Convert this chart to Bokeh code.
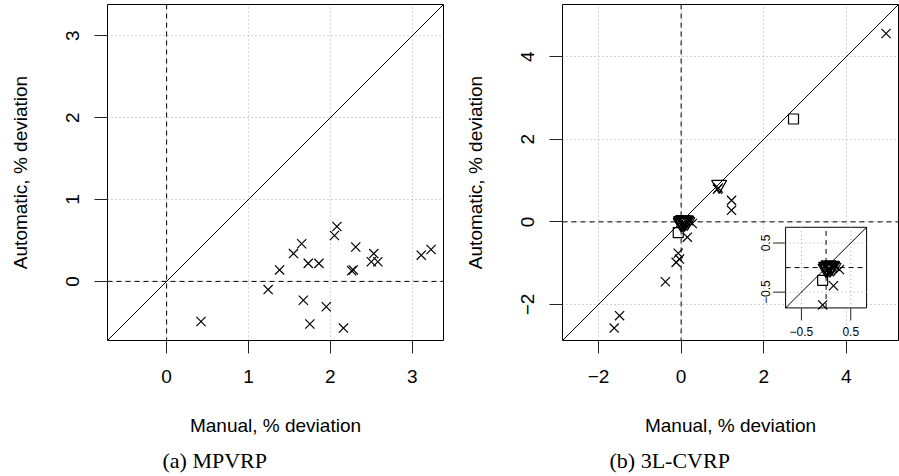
import math
import numpy as np
from bokeh.plotting import figure
from bokeh.layouts import row
from bokeh.models import Range1d, Span, Slope, FixedTicker, Title
from bokeh.embed import file_html
from bokeh.resources import INLINE
from bokeh.core.properties import value

# ---------------- data ----------------
# (a) MPVRP
mpvrp_manual = [0.42, 1.24, 1.38, 1.55, 1.65, 1.73, 1.86, 1.67, 1.75, 1.95, 2.05,
                2.08, 2.16, 2.26, 2.28, 2.31, 2.53, 2.50, 2.58, 3.11, 3.23]
mpvrp_auto = [-0.49, -0.10, 0.14, 0.34, 0.46, 0.22, 0.22, -0.23, -0.52, -0.31, 0.56,
              0.67, -0.57, 0.13, 0.14, 0.42, 0.34, 0.24, 0.24, 0.32, 0.39]
mpvrp_ticks = [0, 1, 2, 3]

# (b) 3L-CVRP, three marker groups
cvrp_x_manual = [4.96, 0.88, 0.90, 1.22, 1.22, 0.27, 0.15, -0.07, -0.04, -0.12,
                 -0.38, -1.49, -1.62, 0.10, 0.05, 0.18]
cvrp_x_auto = [4.56, 0.79, 0.82, 0.52, 0.28, -0.04, -0.37, -0.76, -0.90, -0.98,
               -1.45, -2.27, -2.57, 0.02, -0.02, 0.03]
cvrp_sq_manual = [2.72, -0.07]
cvrp_sq_auto = [2.49, -0.26]
cvrp_tri_manual = [0.92, 0.00, 0.03, 0.06, 0.09, 0.12, 0.02, 0.15, 0.05, 0.08, 0.11, -0.01]
cvrp_tri_auto = [0.90, 0.02, 0.00, 0.03, 0.01, 0.02, -0.03, 0.00, 0.05, -0.02, 0.04, -0.02]
cvrp_ticks = [-2, 0, 2, 4]

inset_lim = [-0.76, 0.76]
inset_ticks = [-0.5, 0.5]

# ---------------- style ----------------
SANS = "Liberation Sans"
SERIF = "Liberation Serif"
FRAME = 336
INSET_FRAC = (0.664, 0.905, 0.097, 0.337)  # left, right, bottom, top of main frame
GRID = "#aaaaaa"


def padded(lo, hi, frac=0.04):
    d = (hi - lo) * frac
    return lo - d, hi + d


def minus(t):
    s = ("%g" % t)
    return s.replace("-", "\u2212")


def make_panel(xs, ys, ticks, caption, cap_offset, border_right):
    lo = min(min(xs), min(ys))
    hi = max(max(xs), max(ys))
    a, b = padded(lo, hi)
    p = figure(frame_width=FRAME, frame_height=FRAME,
               x_range=Range1d(a, b), y_range=Range1d(a, b),
               output_backend="svg", toolbar_location=None,
               min_border_left=107, min_border_right=border_right,
               min_border_top=4, min_border_bottom=136,
               background_fill_color="white", border_fill_color="white",
               outline_line_color="black", outline_line_width=1)
    for ax in (p.xaxis[0], p.yaxis[0]):
        ax.ticker = FixedTicker(ticks=ticks)
        ax.major_tick_out = 13
        ax.major_tick_in = 0
        ax.minor_tick_out = 0
        ax.minor_tick_in = 0
        ax.major_tick_line_color = "#222222"
        ax.axis_line_color = None
        ax.major_label_text_font = SANS
        ax.major_label_text_font_size = "19px"
        ax.major_label_text_color = "black"
        ax.axis_label_text_font = SANS
        ax.axis_label_text_font_size = "19px"
        ax.axis_label_text_font_style = "normal"
        ax.axis_label_text_color = "black"
        ax.major_label_overrides = {t: minus(t) for t in ticks}
    p.xaxis.axis_label = "Manual, % deviation"
    p.yaxis.axis_label = "Automatic, % deviation"
    p.xaxis.major_label_standoff = 16
    p.xaxis.axis_label_standoff = 29
    p.yaxis.major_label_standoff = 15
    p.yaxis.axis_label_standoff = 33
    p.yaxis.major_label_orientation = "parallel"
    p.grid.grid_line_color = GRID
    p.grid.grid_line_dash = "1 3"
    p.grid.grid_line_width = 1
    p.add_layout(Span(location=0, dimension="width", line_dash="5 4",
                      line_color="black", line_width=1))
    p.add_layout(Span(location=0, dimension="height", line_dash="5 4",
                      line_color="black", line_width=1))
    p.add_layout(Slope(gradient=1, y_intercept=0, line_color="black", line_width=1))
    p.add_layout(Title(text=caption, align="left", offset=cap_offset,
                       text_font=SERIF, text_font_size="22px",
                       text_font_style="normal", text_color="black",
                       standoff=14), "below")
    return p, (a, b)


MK = dict(line_color="black", line_width=1.2, fill_color=None)
XS, SQS, TRS = 13, 10, 15

# ---- panel (a)
p1, _ = make_panel(mpvrp_manual, mpvrp_auto, mpvrp_ticks, "(a) MPVRP", 55, 12)
p1.scatter(mpvrp_manual, mpvrp_auto, marker="x", size=XS, **MK)

# ---- panel (b)
all_x = cvrp_x_manual + cvrp_sq_manual + cvrp_tri_manual
all_y = cvrp_x_auto + cvrp_sq_auto + cvrp_tri_auto
p2, (a2, b2) = make_panel(all_x, all_y, cvrp_ticks, "(b) 3L-CVRP", 47, 1)
p2.scatter(cvrp_x_manual, cvrp_x_auto, marker="x", size=XS, **MK)
p2.scatter(cvrp_sq_manual, cvrp_sq_auto, marker="square", size=SQS, **MK)
p2.scatter(cvrp_tri_manual, cvrp_tri_auto, marker="inverted_triangle", size=TRS, **MK)

# ---- inset of panel (b)
ia, ib = padded(*inset_lim)
span2 = b2 - a2
sub = p2.subplot(
    x_source=Range1d(ia, ib), y_source=Range1d(ia, ib),
    x_target=Range1d(a2 + INSET_FRAC[0] * span2, a2 + INSET_FRAC[1] * span2),
    y_target=Range1d(a2 + INSET_FRAC[2] * span2, a2 + INSET_FRAC[3] * span2),
)
sub.quad(left=[ia], right=[ib], bottom=[ia], top=[ib],
         fill_color="white", line_color="black", line_width=1)
sub.segment(x0=inset_ticks, y0=[ia] * len(inset_ticks), x1=inset_ticks, y1=[ib] * len(inset_ticks),
            line_color=GRID, line_dash="1 3", line_width=1)
sub.segment(x0=[ia] * len(inset_ticks), y0=inset_ticks, x1=[ib] * len(inset_ticks), y1=inset_ticks,
            line_color=GRID, line_dash="1 3", line_width=1)
sub.segment(x0=[0, ia], y0=[ia, 0], x1=[0, ib], y1=[ib, 0],
            line_color="black", line_dash="5 4", line_width=1)
sub.segment(x0=[ia], y0=[ia], x1=[ib], y1=[ib], line_color="black", line_width=1)


def inside(xs, ys):
    xs = np.asarray(xs); ys = np.asarray(ys)
    m = (xs >= ia) & (xs <= ib) & (ys >= ia) & (ys <= ib)
    return xs[m], ys[m]


sx, sy = inside(cvrp_x_manual, cvrp_x_auto)
sub.scatter(sx, sy, marker="x", size=XS, **MK)
sx, sy = inside(cvrp_sq_manual, cvrp_sq_auto)
sub.scatter(sx, sy, marker="square", size=SQS, **MK)
sx, sy = inside(cvrp_tri_manual, cvrp_tri_auto)
sub.scatter(sx, sy, marker="inverted_triangle", size=TRS, **MK)

# inset axes (ticks + labels)
sub.ray(x=inset_ticks, y=[ia] * len(inset_ticks), length=12.5, angle=-math.pi / 2,
        length_units="screen", line_color="#222222", line_width=1)
sub.ray(x=[ia] * len(inset_ticks), y=inset_ticks, length=12.5, angle=math.pi,
        length_units="screen", line_color="#222222", line_width=1)
inset_labels = [minus(t) for t in inset_ticks]
sub.text(x=inset_ticks, y=[ia] * len(inset_ticks), text=inset_labels, y_offset=24,
         text_align="center", text_baseline="middle", text_font=value(SANS),
         text_font_size="12px", text_color="black")
sub.text(x=[ia] * len(inset_ticks), y=inset_ticks, text=inset_labels, x_offset=-20,
         angle=math.pi / 2, text_align="center", text_baseline="middle",
         text_font=value(SANS), text_font_size="12px", text_color="black")

layout = row(p1, p2, spacing=0)
open("out.html", "w").write(file_html(layout, INLINE))
